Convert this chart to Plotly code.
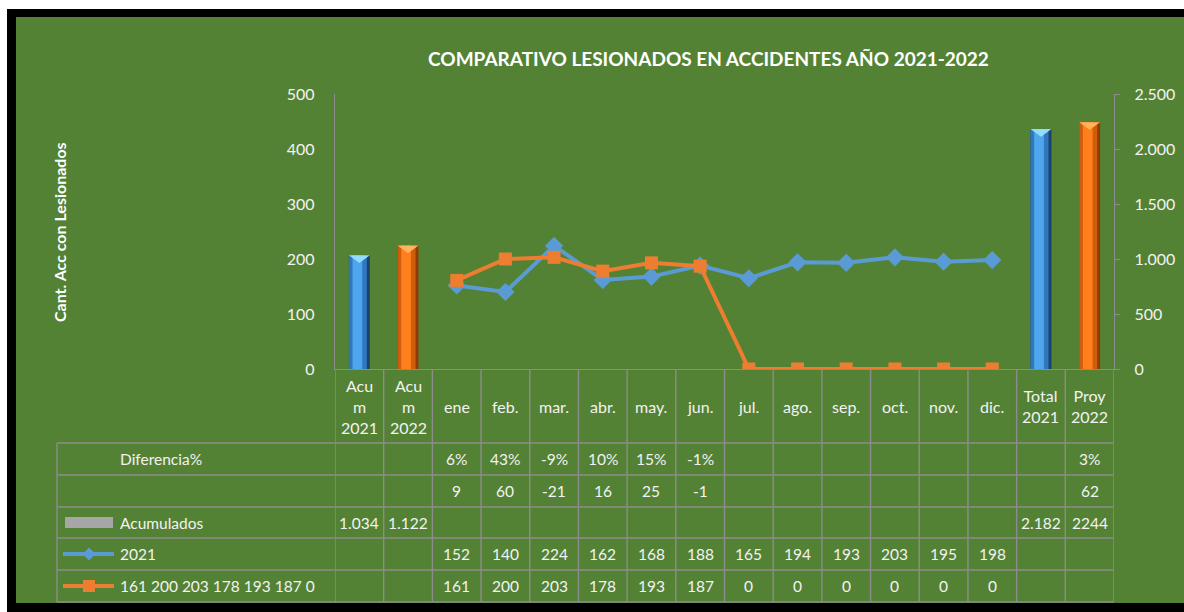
import plotly.graph_objects as go

W, H = 1184, 612

# ---------------- data ----------------
categories = ["Acum 2021", "Acum 2022", "ene", "feb.", "mar.", "abr.", "may.", "jun.",
              "jul.", "ago.", "sep.", "oct.", "nov.", "dic.", "Total 2021", "Proy 2022"]
category_labels = ["Acu<br>m<br>2021", "Acu<br>m<br>2022", "ene", "feb.", "mar.", "abr.", "may.", "jun.",
                   "jul.", "ago.", "sep.", "oct.", "nov.", "dic.", "Total<br>2021", "Proy<br>2022"]
months = ["ene", "feb.", "mar.", "abr.", "may.", "jun.", "jul.", "ago.", "sep.", "oct.", "nov.", "dic."]
values_2021 = [152, 140, 224, 162, 168, 188, 165, 194, 193, 203, 195, 198]
values_2022 = [161, 200, 203, 178, 193, 187, 0, 0, 0, 0, 0, 0]
acum_categories = ["Acum 2021", "Acum 2022", "Total 2021", "Proy 2022"]
acum_values = [1034, 1122, 2182, 2244]
acum_labels = ["1.034", "1.122", "2.182", "2244"]
diff_categories = ["ene", "feb.", "mar.", "abr.", "may.", "jun.", "Proy 2022"]
diff_pct = ["6%", "43%", "-9%", "10%", "15%", "-1%", "3%"]
diff_abs = [9, 60, -21, 16, 25, -1, 62]

title = "COMPARATIVO LESIONADOS EN ACCIDENTES AÑO 2021-2022"
y_title = "Cant. Acc con Lesionados"
row_names = ["Diferencia%", "", "Acumulados", "2021", "161 200 203 178 193 187 0"]

# ---------------- style ----------------
FONT = "Lato"
TXT = "#f2f2f2"
GREEN = "#548235"
GRID = "#8c8c8c"
BLUE = "#5b9bd5"
ORANGE = "#ed7d31"


def px(x):
    return x / W


def py(y):
    return 1 - y / H


cat_idx = {c: i for i, c in enumerate(categories)}

fig = go.Figure()

# bars (secondary axis) - layered to imitate the cylinder shading
acum_is_2022 = [c.endswith("2022") for c in acum_categories]
layers = [
    (0.43, -0.215, ["#8f3d05" if o else "#1b426d" for o in acum_is_2022]),
    (0.37, -0.215, ["#cf5d0c" if o else "#2f78bd" for o in acum_is_2022]),
    (0.20, -0.14, ["#ff7f1f" if o else "#4ea6ee" for o in acum_is_2022]),
]
for w, off, cols in layers:
    fig.add_trace(go.Bar(x=acum_categories, y=acum_values, yaxis="y2", width=w, offset=off,
                         marker=dict(color=cols, line=dict(width=0)), showlegend=False,
                         hoverinfo="skip"))

fig.add_trace(go.Scatter(x=months, y=values_2021, mode="lines+markers", name="2021",
                         line=dict(color=BLUE, width=4),
                         marker=dict(symbol="diamond", size=14, color=BLUE), showlegend=False))
fig.add_trace(go.Scatter(x=months, y=values_2022, mode="lines+markers", name="2022",
                         line=dict(color=ORANGE, width=4),
                         marker=dict(symbol="square", size=13, color=ORANGE), showlegend=False))

shapes = []
# background frame
shapes.append(dict(type="rect", xref="paper", yref="paper", x0=px(7), x1=1, y0=0, y1=py(9),
                   fillcolor="black", line=dict(width=0), layer="below"))
shapes.append(dict(type="rect", xref="paper", yref="paper", x0=px(16), x1=1, y0=py(603), y1=py(17),
                   fillcolor=GREEN, line=dict(width=0), layer="below"))

# bevel triangles on bar tops
for c, v, o in zip(acum_categories, acum_values, acum_is_2022):
    i = cat_idx[c]
    d = 0.028 * 2500
    shapes.append(dict(type="path", xref="x", yref="y2",
                       path=f"M {i-0.215},{v} L {i+0.215},{v} L {i},{v-d} Z",
                       fillcolor="#ffb35c" if o else "#93dcff", line=dict(width=0)))

# table lines
row_lines = [443, 475, 507, 538, 570, 602]
for yl in row_lines:
    shapes.append(dict(type="line", xref="paper", yref="paper", x0=px(57), x1=px(1114),
                       y0=py(yl), y1=py(yl), line=dict(color=GRID, width=1.4)))
shapes.append(dict(type="line", xref="paper", yref="paper", x0=px(57), x1=px(57),
                   y0=py(443), y1=py(602), line=dict(color=GRID, width=1.4)))
for i in range(len(categories) + 1):
    shapes.append(dict(type="line", xref="x", yref="paper", x0=i - 0.5, x1=i - 0.5,
                       y0=py(602), y1=py(369), line=dict(color=GRID, width=1.4)))

# legend keys in the table
shapes.append(dict(type="rect", xref="paper", yref="paper", x0=px(65), x1=px(113),
                   y0=py(528), y1=py(517), fillcolor="#a6a6a6", line=dict(width=0)))
shapes.append(dict(type="line", xref="paper", yref="paper", x0=px(63), x1=px(114),
                   y0=py(554), y1=py(554), line=dict(color=BLUE, width=4)))
shapes.append(dict(type="path", xref="paper", yref="paper",
                   path=f"M {px(82.5)},{py(554)} L {px(89)},{py(547.5)} L {px(95.5)},{py(554)} L {px(89)},{py(560.5)} Z",
                   fillcolor=BLUE, line=dict(width=0)))
shapes.append(dict(type="line", xref="paper", yref="paper", x0=px(63), x1=px(114),
                   y0=py(586), y1=py(586), line=dict(color=ORANGE, width=4)))
shapes.append(dict(type="rect", xref="paper", yref="paper", x0=px(83), x1=px(95),
                   y0=py(592), y1=py(580), fillcolor=ORANGE, line=dict(width=0)))

ann = []
ann.append(dict(text=f"<b>{title}</b>", xref="paper", yref="paper", x=px(708), y=py(58),
                xanchor="center", yanchor="middle",
                showarrow=False, font=dict(family=FONT, size=19, color="white")))
ann.append(dict(text=f"<b>{y_title}</b>", xref="paper", yref="paper", x=px(59), y=py(232),
                xanchor="center", yanchor="middle",
                textangle=-90, showarrow=False, font=dict(family=FONT, size=16, color="white")))

# category header labels
for c, lab in zip(categories, category_labels):
    ann.append(dict(text=lab, xref="x", yref="paper", x=cat_idx[c], y=py(406),
                    xanchor="center", yanchor="middle",
                    showarrow=False, font=dict(family=FONT, size=16, color=TXT)))

# table rows
row_centers = [459, 491, 522.5, 554, 586]
row_cells = [
    dict(zip(diff_categories, diff_pct)),
    dict(zip(diff_categories, [str(v) for v in diff_abs])),
    dict(zip(acum_categories, acum_labels)),
    dict(zip(months, [str(v) for v in values_2021])),
    dict(zip(months, [str(v) for v in values_2022])),
]
for name, yc, cells in zip(row_names, row_centers, row_cells):
    if name:
        ann.append(dict(text=name, xref="paper", yref="paper", x=px(118), y=py(yc),
                        xanchor="left", yanchor="middle",
                        showarrow=False, font=dict(family=FONT, size=15.5, color=TXT)))
    for c, t in cells.items():
        ann.append(dict(text=t, xref="x", yref="paper", x=cat_idx[c], y=py(yc),
                        xanchor="center", yanchor="middle",
                        showarrow=False, font=dict(family=FONT, size=15.5, color=TXT)))

fig.update_layout(
    width=W, height=H, margin=dict(l=0, r=0, t=0, b=0, pad=0, autoexpand=False),
    paper_bgcolor="white", plot_bgcolor="rgba(0,0,0,0)",
    separators=",.", barmode="overlay", showlegend=False,
    xaxis=dict(domain=[px(335), px(1114)], range=[-0.5, len(categories) - 0.5], type="category",
               categoryorder="array", categoryarray=categories, automargin=False,
               showticklabels=False, ticks="", showgrid=False, zeroline=False,
               showline=True, linecolor=GRID, linewidth=1.4),
    yaxis=dict(domain=[py(369), py(94)], range=[0, 500], dtick=100, showgrid=False, zeroline=False,
               automargin=False,
               showline=True, linecolor=GRID, linewidth=1.4, ticks="", ticklabelstandoff=16,
               tickfont=dict(family=FONT, size=16, color=TXT)),
    yaxis2=dict(overlaying="y", side="right", range=[0, 2500], dtick=500, tickformat=",d",
                automargin=False,
                showgrid=False, zeroline=False, showline=True, linecolor=GRID, linewidth=1.4,
                ticks="outside", ticklen=5, tickcolor=GRID, ticklabelstandoff=11,
                tickfont=dict(family=FONT, size=16, color=TXT)),
    shapes=shapes, annotations=ann,
)

fig.write_html("out.html", config={"displayModeBar": False},
               post_script="document.body.style.margin='0';document.body.style.overflow='hidden';")
